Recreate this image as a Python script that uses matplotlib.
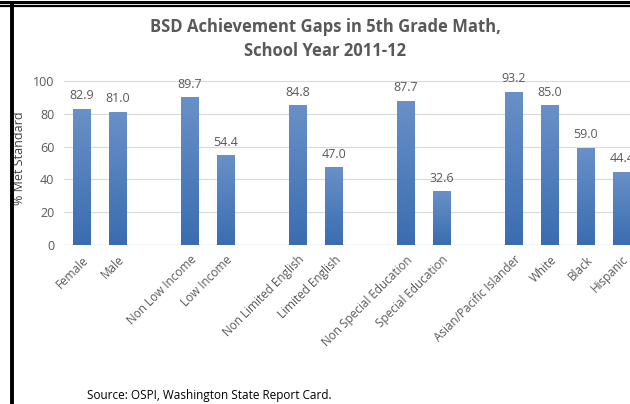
import numpy as np
import matplotlib
matplotlib.use('Agg')
import matplotlib.pyplot as plt
from matplotlib.lines import Line2D

plt.rcParams['font.family'] = ['Open Sans', 'DejaVu Sans']

# data
groups = [['Female', 'Male'],
          ['Non Low Income', 'Low Income'],
          ['Non Limited English', 'Limited English'],
          ['Non Special Education', 'Special Education'],
          ['Asian/Pacific Islander', 'White', 'Black', 'Hispanic']]
values = [82.9, 81.0, 89.7, 54.4, 84.8, 47.0, 87.7, 32.6, 93.2, 85.0, 59.0, 44.4]
title = 'BSD Achievement Gaps in 5th Grade Math,\nSchool Year 2011-12'
ylabel = '% Met Standard'
source = 'Source: OSPI, Washington State Report Card.'

# one empty slot between groups
labels, xpos = [], []
slot = 0
for g in groups:
    for name in g:
        labels.append(name)
        xpos.append(slot)
        slot += 1
    slot += 1
xpos = np.array(xpos)

grey = '#595959'
fig = plt.figure(figsize=(6.3, 4.04), dpi=100)
ax = fig.add_axes([64/630, 1-245/404, 576/630, 164/404])

w = 0.5
bars = ax.bar(xpos, values, width=w, color='#4a7bbf', zorder=2)
# vertical gradient inside each bar
grad = np.linspace(0, 1, 100).reshape(-1, 1)
cmap = matplotlib.colors.LinearSegmentedColormap.from_list('b', ['#3a6db0', '#6990c8'])
for b in bars:
    x0, y0 = b.get_x(), b.get_y()
    ax.imshow(grad, extent=(x0, x0 + b.get_width(), y0, y0 + b.get_height()),
              origin='lower', cmap=cmap, aspect='auto', zorder=3)
for x, v in zip(xpos, values):
    ax.annotate('%.1f' % v, (x, v), xytext=(0, 5), textcoords='offset points',
                ha='center', va='bottom', fontsize=9, color=grey)

ax.set_xlim(-0.5, slot - 1.5)
ax.set_ylim(0, 100)
ax.set_yticks(np.arange(0, 101, 20))
ax.set_xticks(xpos)
ax.set_xticklabels(labels, rotation=45, ha='right', rotation_mode='anchor',
                   fontsize=8.5, color=grey)
ax.tick_params(axis='y', labelsize=9, labelcolor=grey, length=0, pad=7)
ax.tick_params(axis='x', length=0, pad=6)
for s in ax.spines.values():
    s.set_visible(False)
ax.grid(axis='y', color='#d9d9d9', linewidth=0.8, zorder=0)
ax.axhline(0, color='#bfbfbf', linewidth=0.9, zorder=1)
ax.set_ylabel(ylabel, fontsize=9, color='#404040', va='center')
ax.yaxis.set_label_coords(-44/576, 0.53)

fig.text(325/630, 1-39/404, title, ha='center', va='center', fontsize=12,
         fontweight='bold', color=grey, linespacing=1.45)
fig.text(87/630, 1-395/404, source, ha='left', va='center', fontsize=8.5,
         color='black')

# frame lines of the original screenshot
fig.add_artist(Line2D([0, 1], [1-1.5/404, 1-1.5/404], color='black', linewidth=2.2))
fig.add_artist(Line2D([0, 1], [1-5.5/404, 1-5.5/404], color='black', linewidth=1.6))
fig.add_artist(Line2D([12/630, 12/630], [0, 1-5/404], color='black', linewidth=2.8))

fig.savefig('out.png', dpi=100)
